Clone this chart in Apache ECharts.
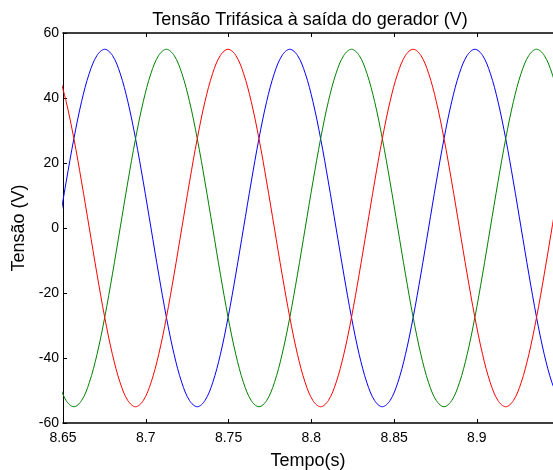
<!DOCTYPE html>
<html>
<head>
<meta charset="utf-8">
<script src="https://cdn.jsdelivr.net/npm/echarts@6/dist/echarts.min.js"></script>
<style>
html,body{margin:0;padding:0;background:#fff;}
#chart{width:553px;height:470px;}
</style>
</head>
<body>
<div id="chart"></div>
<script>
// Time samples (s)
const tempo = [8.64725, 8.65191, 8.65657, 8.66122, 8.66588, 8.67054, 8.67520, 8.67986, 8.68452, 8.68917,
  8.69383, 8.69849, 8.70315, 8.70781, 8.71247, 8.71712, 8.72178, 8.72644, 8.73110, 8.73576,
  8.74042, 8.74507, 8.74973, 8.75439, 8.75905, 8.76371, 8.76837, 8.77302, 8.77768, 8.78234,
  8.78700, 8.79166, 8.79632, 8.80097, 8.80563, 8.81029, 8.81495, 8.81961, 8.82427, 8.82892,
  8.83358, 8.83824, 8.84290, 8.84756, 8.85222, 8.85687, 8.86153, 8.86619, 8.87085, 8.87551,
  8.88017, 8.88482, 8.88948, 8.89414, 8.89880, 8.90346, 8.90812, 8.91277, 8.91743, 8.92209,
  8.92675, 8.93141, 8.93607, 8.94072, 8.94538, 8.95004];

// Phase voltages (V)
const faseAzul = [0, 14.2, 27.5, 38.9, 47.6, 53.1, 55, 53.1, 47.6, 38.9, 27.5, 14.2, 0, -14.2, -27.5, -38.9, -47.6, -53.1, -55, -53.1, -47.6, -38.9, -27.5, -14.2,
  0, 14.2, 27.5, 38.9, 47.6, 53.1, 55, 53.1, 47.6, 38.9, 27.5, 14.2, 0, -14.2, -27.5, -38.9, -47.6, -53.1, -55, -53.1, -47.6, -38.9, -27.5, -14.2,
  0, 14.2, 27.5, 38.9, 47.6, 53.1, 55, 53.1, 47.6, 38.9, 27.5, 14.2, 0, -14.2, -27.5, -38.9, -47.6, -53.1];
const faseVerde = [-47.6, -53.1, -55, -53.1, -47.6, -38.9, -27.5, -14.2, 0, 14.2, 27.5, 38.9, 47.6, 53.1, 55, 53.1, 47.6, 38.9, 27.5, 14.2, 0, -14.2, -27.5, -38.9,
  -47.6, -53.1, -55, -53.1, -47.6, -38.9, -27.5, -14.2, 0, 14.2, 27.5, 38.9, 47.6, 53.1, 55, 53.1, 47.6, 38.9, 27.5, 14.2, 0, -14.2, -27.5, -38.9,
  -47.6, -53.1, -55, -53.1, -47.6, -38.9, -27.5, -14.2, 0, 14.2, 27.5, 38.9, 47.6, 53.1, 55, 53.1, 47.6, 38.9];
const faseVermelha = [47.6, 38.9, 27.5, 14.2, 0, -14.2, -27.5, -38.9, -47.6, -53.1, -55, -53.1, -47.6, -38.9, -27.5, -14.2, 0, 14.2, 27.5, 38.9, 47.6, 53.1, 55, 53.1,
  47.6, 38.9, 27.5, 14.2, 0, -14.2, -27.5, -38.9, -47.6, -53.1, -55, -53.1, -47.6, -38.9, -27.5, -14.2, 0, 14.2, 27.5, 38.9, 47.6, 53.1, 55, 53.1,
  47.6, 38.9, 27.5, 14.2, 0, -14.2, -27.5, -38.9, -47.6, -53.1, -55, -53.1, -47.6, -38.9, -27.5, -14.2, 0, 14.2];

const xTicks = [8.65, 8.7, 8.75, 8.8, 8.85, 8.9];
const yTicks = [-60, -40, -20, 0, 20, 40, 60];

const titulo = 'Tensão Trifásica à saída do gerador (V)';
const nomeX = 'Tempo(s)';
const nomeY = 'Tensão (V)';

function pares(ys) { return tempo.map((t, i) => [t, ys[i]]); }

const FONT = '"Liberation Sans", Arial, Helvetica, sans-serif';
const chart = echarts.init(document.getElementById('chart'), null, {renderer: 'canvas'});
chart.setOption({
  animation: false,
  backgroundColor: '#fff',
  title: {
    text: titulo, left: 305, top: 6, textAlign: 'center',
    textStyle: {fontFamily: FONT, fontSize: 18, fontWeight: 'normal', color: '#000'}
  },
  grid: {left: 63, right: 0, top: 33, bottom: 47, containLabel: false, outerBoundsMode: 'none'},
  xAxis: [{
    type: 'value', min: 8.65, max: 8.946, interval: 0.05,
    name: nomeX, nameLocation: 'middle', nameGap: 29,
    nameTextStyle: {fontFamily: FONT, fontSize: 18, color: '#000'},
    axisLine: {show: true, onZero: false, lineStyle: {color: '#000', width: 1.5}},
    axisTick: {show: true, inside: true, length: 4, lineStyle: {color: '#000'}},
    axisLabel: {fontFamily: FONT, fontSize: 14, color: '#000', margin: 8, showMaxLabel: false,
      formatter: v => { const m = xTicks.find(t => Math.abs(t - v) < 1e-6); return m === undefined ? '' : String(m); }},
    splitLine: {show: false}
  }, {
    type: 'value', position: 'top', min: 8.65, max: 8.946, interval: 0.05,
    axisLine: {show: true, onZero: false, lineStyle: {color: '#000', width: 1.5}},
    axisTick: {show: true, inside: true, length: 4, lineStyle: {color: '#000'}},
    axisLabel: {show: false},
    splitLine: {show: false}
  }],
  yAxis: [{
    type: 'value', min: -60, max: 60, interval: 20,
    name: nomeY, nameLocation: 'middle', nameGap: 31, nameRotate: 90,
    nameTextStyle: {fontFamily: FONT, fontSize: 18, color: '#000'},
    axisLine: {show: true, onZero: false, lineStyle: {color: '#000', width: 1}},
    axisTick: {show: true, inside: true, length: 4, lineStyle: {color: '#000'}},
    axisLabel: {fontFamily: FONT, fontSize: 14, color: '#000', margin: 4,
      formatter: v => { const m = yTicks.find(t => Math.abs(t - v) < 1e-6); return m === undefined ? '' : String(m); }},
    splitLine: {show: false}
  }],
  series: [
    {name: 'Fase A', type: 'line', data: pares(faseAzul), showSymbol: false, smooth: 0.35, clip: true,
      lineStyle: {color: '#0000ff', width: 1}, itemStyle: {color: '#0000ff'}},
    {name: 'Fase B', type: 'line', data: pares(faseVerde), showSymbol: false, smooth: 0.35, clip: true,
      lineStyle: {color: '#008000', width: 1}, itemStyle: {color: '#008000'}},
    {name: 'Fase C', type: 'line', data: pares(faseVermelha), showSymbol: false, smooth: 0.35, clip: true,
      lineStyle: {color: '#ff0000', width: 1}, itemStyle: {color: '#ff0000'}}
  ]
});
</script>
</body>
</html>
